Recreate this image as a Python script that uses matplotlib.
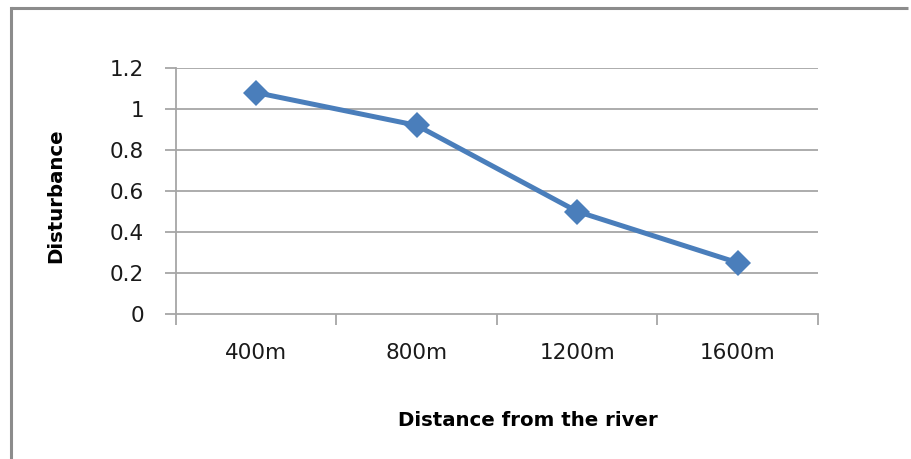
import matplotlib.pyplot as plt
from matplotlib.lines import Line2D

# Disturbance measured at increasing distance from the river
distances = ['400m', '800m', '1200m', '1600m']
disturbance = [1.08, 0.92, 0.50, 0.25]
y_ticks = [0, 0.2, 0.4, 0.6, 0.8, 1, 1.2]
y_tick_labels = ['0', '0.2', '0.4', '0.6', '0.8', '1', '1.2']

plt.rcParams['font.family'] = ['DejaVu Sans']

fig = plt.figure(figsize=(9.12, 4.59), dpi=100)
ax = fig.add_axes([176/912, 1 - 314/459, (818 - 176)/912, (314 - 68)/459])

# chart frame: only its top and left edges fall inside the image
frame_col = '#8c8c8c'
fx, fy = 11/912, 1 - 8/459
fig.add_artist(Line2D([fx, 0.996], [fy, fy], transform=fig.transFigure,
                      color=frame_col, linewidth=2.2, solid_capstyle='butt'))
fig.add_artist(Line2D([fx, fx], [0.0, fy], transform=fig.transFigure,
                      color=frame_col, linewidth=2.2, solid_capstyle='projecting'))

grid_col = '#a6a6a6'
x = range(len(distances))
ax.plot(x, disturbance, color='#4a7ebb', linewidth=3.6, marker='D',
        markersize=13, markeredgewidth=0, zorder=3)

ax.set_xlim(-0.5, len(distances) - 0.5)
ax.set_ylim(0, 1.2)
ax.set_yticks(y_ticks)
ax.set_yticklabels(y_tick_labels)
ax.set_xticks(list(x))
ax.set_xticklabels(distances)
ax.set_xticks([i - 0.5 for i in range(len(distances) + 1)], minor=True)

for v in y_ticks[1:]:
    ax.axhline(v, color=grid_col, linewidth=1.3, zorder=1)

for side in ['top', 'right']:
    ax.spines[side].set_visible(False)
for side in ['left', 'bottom']:
    ax.spines[side].set_color(grid_col)
    ax.spines[side].set_linewidth(1.3)

ax.tick_params(axis='y', length=8, width=1.3, color=grid_col, labelsize=15.5,
               pad=15, labelcolor='#1a1a1a')
ax.tick_params(axis='x', which='major', length=0, labelsize=15.5, pad=21,
               labelcolor='#1a1a1a')
ax.tick_params(axis='x', which='minor', length=8, width=1.3, color=grid_col)

ax.set_ylabel('Disturbance', fontsize=14.2, fontweight='bold', va='center')
ax.yaxis.set_label_coords(-0.187, 0.48)
ax.set_xlabel('Distance from the river', fontsize=14.2, fontweight='bold', va='center')
ax.xaxis.set_label_coords(0.548, -0.431)

fig.savefig('out.png', dpi=100)
